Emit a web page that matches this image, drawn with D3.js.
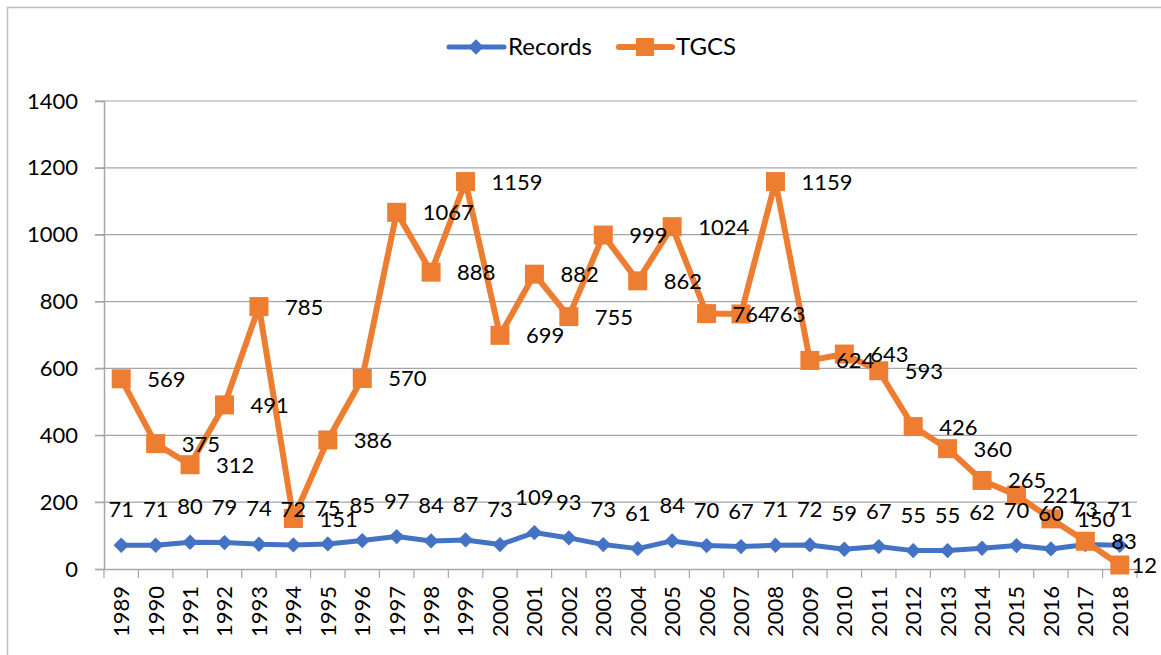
<!DOCTYPE html>
<html>
<head>
<meta charset="utf-8">
<script src="https://cdnjs.cloudflare.com/ajax/libs/d3/7.8.5/d3.min.js"></script>
<style>
  body { margin: 0; background: #fff; }
  text { font-family: Lato, "Open Sans", sans-serif; fill: #000; }
</style>
</head>
<body>
<div id="chart"></div>
<script>
const years = ['1989','1990','1991','1992','1993','1994','1995','1996','1997','1998','1999','2000','2001','2002','2003','2004','2005','2006','2007','2008','2009','2010','2011','2012','2013','2014','2015','2016','2017','2018'];
const records = [71,71,80,79,74,72,75,85,97,84,87,73,109,93,73,61,84,70,67,71,72,59,67,55,55,62,70,60,73,71];
const tgcs = [569,375,312,491,785,151,386,570,1067,888,1159,699,882,755,999,862,1024,764,763,1159,624,643,593,426,360,265,221,150,83,12];
const yTicks = [0,200,400,600,800,1000,1200,1400];

const width = 1161;
const height = 655;
const margin = {top: 101, right: 24, bottom: 86, left: 104};
const blue = '#4472C4';
const orange = '#ED7D31';

const svg = d3.select('#chart').append('svg')
  .attr('width', width)
  .attr('height', height);

// chart border
svg.append('rect')
  .attr('x', 7.5).attr('y', 7.5)
  .attr('width', width + 10).attr('height', height + 10)
  .attr('fill', 'none').attr('stroke', '#bfbfbf').attr('stroke-width', 1.5);

const xScale = d3.scaleBand()
  .domain(years)
  .range([margin.left, width - margin.right]);

const yScale = d3.scaleLinear()
  .domain([0, 1400])
  .range([height - margin.bottom, margin.top]);

// gridlines
svg.append('g')
  .selectAll('line')
  .data(yTicks.filter(d => d > 0))
  .join('line')
  .attr('x1', margin.left - 9).attr('x2', width - margin.right)
  .attr('y1', d => yScale(d)).attr('y2', d => yScale(d))
  .attr('stroke', '#a6a6a6').attr('stroke-width', 1.2);

// y axis
const yAxis = svg.append('g')
  .attr('transform', `translate(${margin.left},0)`)
  .call(d3.axisLeft(yScale).tickValues(yTicks).tickFormat(d3.format('d')).tickSize(9).tickPadding(17));
yAxis.select('.domain').attr('stroke', '#a6a6a6').attr('stroke-width', 1.5);
yAxis.selectAll('.tick line').attr('stroke', '#a6a6a6').attr('stroke-width', 1.2);
yAxis.selectAll('.tick text').style('font-size', '22px').attr('fill', '#000');

// x axis
const xAxis = svg.append('g')
  .attr('transform', `translate(0,${height - margin.bottom})`)
  .call(d3.axisBottom(xScale).tickSize(0).tickSizeOuter(0));
xAxis.select('.domain').attr('stroke', '#a6a6a6').attr('stroke-width', 1.5);
xAxis.selectAll('.tick text')
  .style('font-size', '22px')
  .attr('fill', '#000')
  .attr('text-anchor', 'end')
  .attr('transform', 'translate(0,17) rotate(-90)')
  .attr('x', 0).attr('y', 0).attr('dy', '0.36em');
// category separators
svg.append('g')
  .selectAll('line')
  .data(years.concat(['end']))
  .join('line')
  .attr('x1', (d, i) => margin.left + i * xScale.step())
  .attr('x2', (d, i) => margin.left + i * xScale.step())
  .attr('y1', height - margin.bottom).attr('y2', height - margin.bottom + 9)
  .attr('stroke', '#a6a6a6').attr('stroke-width', 1.2);

const cx = d => xScale(d) + xScale.bandwidth() / 2;

const line = d3.line()
  .x(d => cx(d.year))
  .y(d => yScale(d.value));

const recData = years.map((y, i) => ({year: y, value: records[i]}));
const tgData = years.map((y, i) => ({year: y, value: tgcs[i]}));

// Records line
svg.append('path')
  .datum(recData)
  .attr('d', line)
  .attr('fill', 'none').attr('stroke', blue).attr('stroke-width', 5)
  .attr('stroke-linejoin', 'round');
const diamond = d3.symbol().type(d3.symbolDiamond2).size(150);
svg.append('g').selectAll('path')
  .data(recData)
  .join('path')
  .attr('d', diamond)
  .attr('transform', d => `translate(${cx(d.year)},${yScale(d.value)})`)
  .attr('fill', blue);

// TGCS line
svg.append('path')
  .datum(tgData)
  .attr('d', line)
  .attr('fill', 'none').attr('stroke', orange).attr('stroke-width', 6)
  .attr('stroke-linejoin', 'round');
svg.append('g').selectAll('rect')
  .data(tgData)
  .join('rect')
  .attr('x', d => cx(d.year) - 9.5).attr('y', d => yScale(d.value) - 9.5)
  .attr('width', 19).attr('height', 19)
  .attr('fill', orange);

// data labels
svg.append('g').selectAll('text')
  .data(recData)
  .join('text')
  .attr('x', d => cx(d.year))
  .attr('y', d => yScale(d.value) - 28)
  .attr('text-anchor', 'middle')
  .style('font-size', '22px')
  .text(d => d.value);

svg.append('g').selectAll('text')
  .data(tgData)
  .join('text')
  .attr('y', d => yScale(d.value) + 8)
  .style('font-size', '22px')
  .text(d => d.value)
  .attr('x', function(d) {
    const w = this.getComputedTextLength();
    return Math.min(cx(d.year) + 26, width - 4 - w);
  });

// legend
const legend = svg.append('g').attr('transform', 'translate(0,47)');
legend.append('line').attr('x1', 449).attr('x2', 504).attr('y1', 0).attr('y2', 0)
  .attr('stroke', blue).attr('stroke-width', 5).attr('stroke-linecap', 'round');
legend.append('path').attr('d', diamond).attr('transform', 'translate(476,0)').attr('fill', blue);
legend.append('text').attr('x', 508).attr('y', 8).style('font-size', '24px').text('Records');
legend.append('line').attr('x1', 619).attr('x2', 672).attr('y1', 0).attr('y2', 0)
  .attr('stroke', orange).attr('stroke-width', 6).attr('stroke-linecap', 'round');
legend.append('rect').attr('x', 636).attr('y', -9).attr('width', 18).attr('height', 18).attr('fill', orange);
legend.append('text').attr('x', 676).attr('y', 8).style('font-size', '24px').text('TGCS');
</script>
</body>
</html>
